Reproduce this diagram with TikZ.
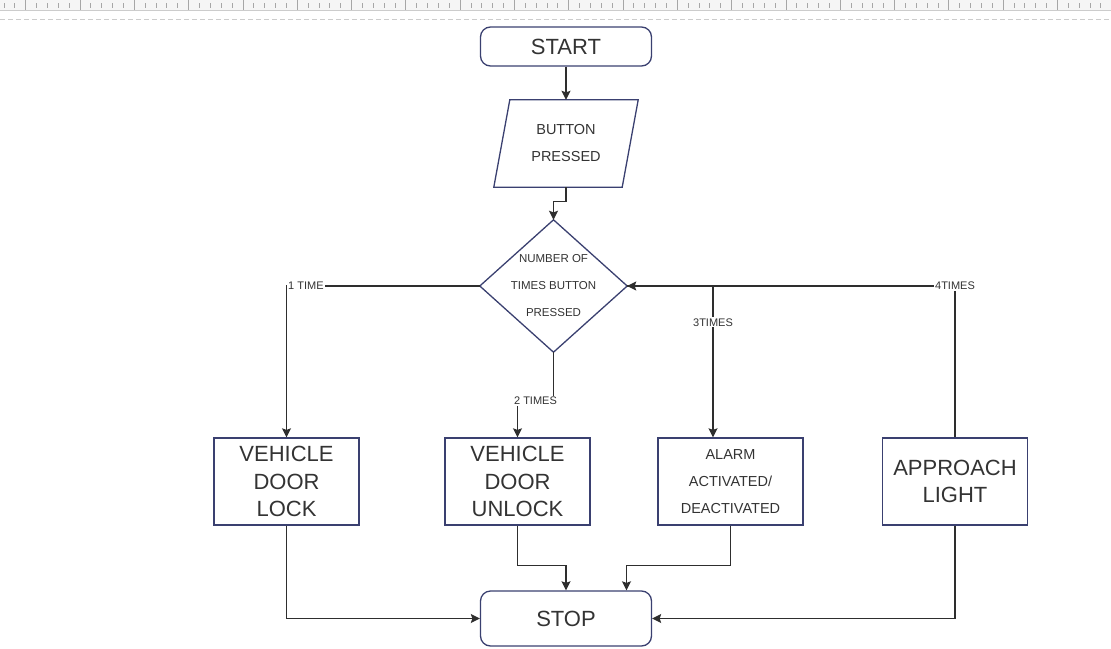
\documentclass[tikz,border=0pt]{standalone}
\usepackage{fontspec}
\setmainfont{Liberation Sans}
\usetikzlibrary{arrows.meta,calc}
\definecolor{edgecol}{HTML}{3A4070}
\definecolor{inkcol}{HTML}{333333}
\definecolor{wirecol}{HTML}{2E2E2E}
\begin{document}
\begin{tikzpicture}[x=1pt, y=-1pt, >={Stealth[length=9pt,width=9pt,inset=1.5pt]},
  term/.style={draw=edgecol, line width=1.3pt, rounded corners=10pt, minimum width=171pt, text=inkcol, font=\fontsize{22}{27.5}\selectfont},
  proc/.style={draw=edgecol, line width=1.3pt, minimum width=145pt, minimum height=87pt, align=center, inner sep=0pt, text=inkcol},
  big/.style={font=\fontsize{22}{27.5}\selectfont},
  small/.style={font=\fontsize{14.5}{27}\selectfont},
  shapebox/.style={inner sep=0pt, align=center, text=inkcol},
  flow/.style={draw=wirecol, line width=1.3pt},
  tag/.style={fill=white, inner sep=1pt, text=inkcol, font=\fontsize{11}{13}\selectfont}]
\useasboundingbox (0,0) rectangle (1111,648);
\clip (0,0) rectangle (1111,648);
% ruler
\fill[black!4] (0,0) rectangle (1111,10);
\draw[black!20, line width=1pt] (0,10) -- (1111,10);
\foreach \k in {-1,...,20}
{
\draw[black!35, line width=0.8pt] (25.7+54.3*\k,0) -- ++(0,10);
\foreach \m in {1,...,4}
  \draw[black!35, line width=0.8pt] (25.7+54.3*\k+10.86*\m,3) -- ++(0,5);
}
\draw[black!20, line width=1pt, dash pattern=on 5pt off 3pt] (0,19) -- (1111,19);

\node[term, minimum height=39pt] (start) at (566,46.5) {START};
\node[shapebox, minimum width=144pt, minimum height=87pt, small] (btn) at (566,143.5) {BUTTON\\PRESSED};
\draw[edgecol, line width=1.3pt] ($(btn.north west)+(16,0)$) -- (btn.north east) -- ($(btn.south east)+(-16,0)$) -- (btn.south west) -- cycle;
\node[shapebox, minimum width=147pt, minimum height=132pt, font=\fontsize{11.5}{27}\selectfont] (dec) at (553.5,286) {NUMBER OF\\TIMES BUTTON\\PRESSED};
\draw[edgecol, line width=1.3pt] (dec.north) -- (dec.east) -- (dec.south) -- (dec.west) -- cycle;
\node[proc, big] (lock) at (286.5,481.5) {VEHICLE\\DOOR\\LOCK};
\node[proc, big] (unlock) at (517.5,481.5) {VEHICLE\\DOOR\\UNLOCK};
\node[proc, small] (alarm) at (730.5,481.5) {ALARM\\ACTIVATED/\\DEACTIVATED};
\node[proc, big] (light) at (955,481.5) {APPROACH\\LIGHT};
\node[term, minimum height=55pt] (stop) at (566,618.5) {STOP};

\draw[flow, ->] (start) -- (btn);
\draw[flow, ->] (btn.south) -- ++(0,14) -| (dec.north);
\draw[flow, ->] (dec.west) -| (lock.north) node[tag, pos=0.5, anchor=west]{1 TIME};
\draw[flow, ->] (dec.south) -- ++(0,49) -| (unlock.north) node[tag, pos=0.25]{2 TIMES};
\draw[flow, ->] (dec.east) -| ([xshift=-17.5pt]alarm.north) node[tag, pos=0.62]{3TIMES};
\draw[flow, ->] (light.north) |- (dec.east) node[tag, pos=0.5]{4TIMES};
\draw[flow, ->] (lock.south) |- (stop.west);
\draw[flow, ->] (unlock.south) -- ++(0,40) -| (stop.north);
\draw[flow, ->] (alarm.south) -- ++(0,40) -| ([xshift=60.5pt]stop.north);
\draw[flow, ->] (light.south) |- (stop.east);
\end{tikzpicture}
\end{document}
